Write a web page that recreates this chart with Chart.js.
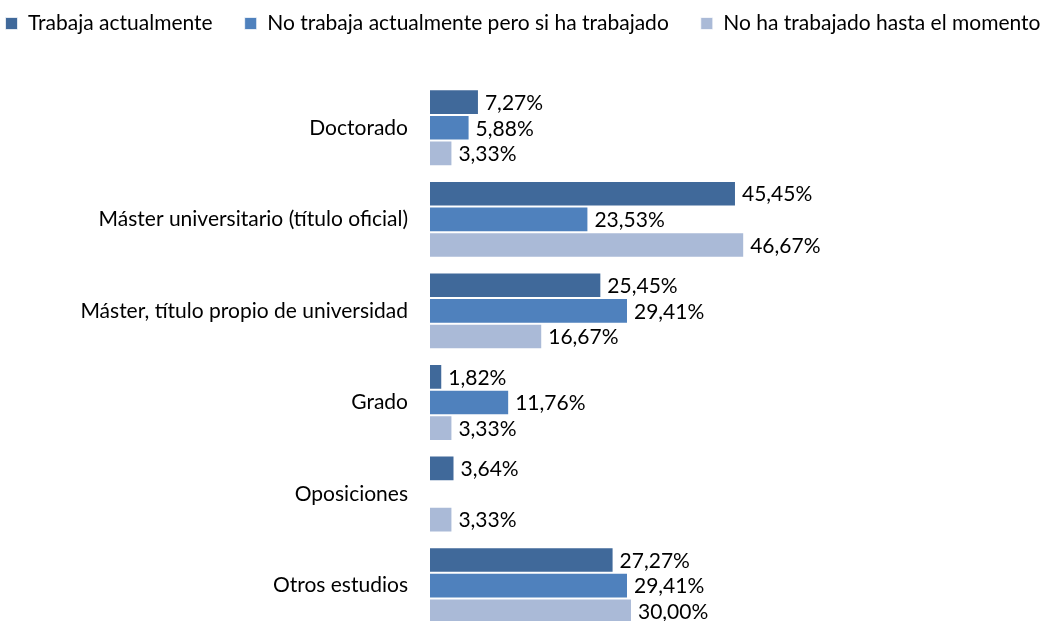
<!DOCTYPE html>
<html>
<head>
<meta charset="utf-8">
<script src="https://cdn.jsdelivr.net/npm/chart.js@4/dist/chart.umd.min.js"></script>
<style>
  html, body { margin: 0; padding: 0; background: #fff; overflow: hidden; }
  canvas { display: block; }
</style>
</head>
<body>
<canvas id="chart" width="1046" height="666"></canvas>
<script>
// Categories and series values (percent)
const categories = [
    'Doctorado',
    'Máster universitario (título oficial)',
    'Máster, título propio de universidad',
    'Grado',
    'Oposiciones',
    'Otros estudios'
];
const seriesNames = [
    'Trabaja actualmente',
    'No trabaja actualmente pero si ha trabajado',
    'No ha trabajado hasta el momento'
];
const trabaja = [7.27, 45.45, 25.45, 1.82, 3.64, 27.27];
const noTrabajaHaTrabajado = [5.88, 23.53, 29.41, 11.76, null, 29.41];
const noHaTrabajado = [3.33, 46.67, 16.67, 3.33, 3.33, 30.00];

const colors = ['#40699a', '#4f81bd', '#aabad7'];
const FONT = 'Lato, "Open Sans", sans-serif';
const FONT_SIZE = 21;

function fmt(v) {
    return v.toFixed(2).replace('.', ',') + '%';
}

// draws the value next to the end of each bar
const barLabels = {
    id: 'barLabels',
    afterDatasetsDraw(chart) {
        const ctx = chart.ctx;
        ctx.save();
        ctx.font = FONT_SIZE + 'px ' + FONT;
        ctx.fillStyle = '#000';
        ctx.textAlign = 'left';
        ctx.textBaseline = 'middle';
        chart.data.datasets.forEach((ds, i) => {
            const meta = chart.getDatasetMeta(i);
            meta.data.forEach((bar, j) => {
                const v = ds.data[j];
                if (v === null || v === undefined) return;
                ctx.fillText(fmt(v), bar.x + 6, bar.y + 1);
            });
        });
        ctx.restore();
    }
};

// wide-spaced legend on one row, with a short box near the top edge
const legendPlace = {
    id: 'legendPlace',
    afterInit(chart) {
        const legend = chart.legend;
        const origFit = legend.fit;
        legend.fit = function () {
            this.maxWidth = 1200;
            origFit.call(this);
            this.width = chart.width;
            this.height = 82;
        };
    },
    afterLayout(chart) {
        // a bit wider than the canvas so the last item stays on the row
        const legend = chart.legend;
        legend.left = -30;
        legend.right = chart.width + 30;
        legend.width = legend.right - legend.left;
        legend.top = -19;
        legend.bottom = legend.top + legend.height;
    }
};

new Chart(document.getElementById('chart'), {
    type: 'bar',
    data: {
        labels: categories,
        datasets: [
            { label: seriesNames[0], data: trabaja, backgroundColor: colors[0] },
            { label: seriesNames[1], data: noTrabajaHaTrabajado, backgroundColor: colors[1] },
            { label: seriesNames[2], data: noHaTrabajado, backgroundColor: colors[2] }
        ].map(d => Object.assign(d, {
            borderColor: 'rgba(255,255,255,0.7)',
            borderWidth: 1,
            categoryPercentage: 0.84,
            barPercentage: 1.0
        }))
    },
    options: {
        indexAxis: 'y',
        responsive: false,
        animation: false,
        layout: { padding: { top: 0, right: 0, bottom: 0, left: 0 } },
        plugins: {
            legend: {
                position: 'top',
                labels: {
                    boxWidth: 12,
                    boxHeight: 12,
                    padding: 32,
                    color: '#000',
                    font: { family: FONT, size: FONT_SIZE }
                }
            },
            tooltip: { enabled: false }
        },
        scales: {
            x: {
                display: false,
                min: 0,
                max: 91.5
            },
            y: {
                grid: { display: false, drawTicks: false },
                border: { display: false },
                ticks: {
                    color: '#000',
                    padding: 22,
                    font: { family: FONT, size: FONT_SIZE }
                },
                afterFit(scale) { scale.width = 430; }
            }
        }
    },
    plugins: [barLabels, legendPlace]
});
</script>
</body>
</html>
